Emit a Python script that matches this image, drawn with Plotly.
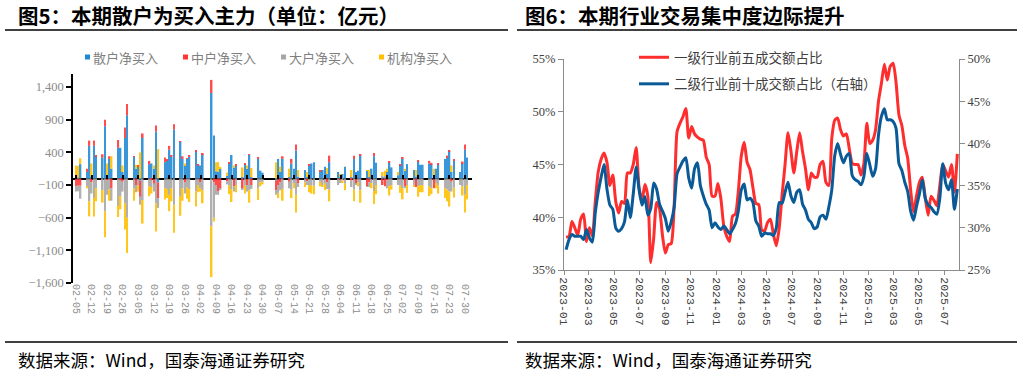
import pandas as pd
import plotly.graph_objects as go

W, H = 1024, 373

# ---------------- 图5 data (亿元, daily) ----------------
holidays5 = ["2025-04-04", "2025-05-01", "2025-05-02", "2025-05-05", "2025-06-02"]
trade_days = [d for d in pd.bdate_range("2025-02-05", "2025-07-31")
              if d.strftime("%Y-%m-%d") not in holidays5]
week_ticks5 = list(pd.date_range("2025-02-05", "2025-07-30", freq="7D"))

retail = [30, 10, 220,
          100, 500, 30, 500, 340,
          320, 800, 20, 300, 150,
          470, 470, 100, 620, 970,
          330, 150, 180, -30, 620,
          220, 230, 150, 720, -60,
          250, 280, 440, 330, 750,
          560, 300, 200, 300, 330,
          420, 200, 200, 370,
          1310, 660, 110, 100, 150,
          40, 230, 360, 160, 200,
          20, 220, 150, 360, 20,
          300, 120, 90,
          -30, 300, 100, 300,
          20, 230, 150, 430, 30,
          130, 20, 200, 230, 250,
          100, 130, 180, 70, 250,
          100, 20, 70, 180,
          20, 300, 100, 120, 350,
          120, 20, 150, 340, 240,
          20, 20, 100, 240, 170,
          50, 200, 300, 120, 220,
          130, 30, 260, 210, 210,
          230, 220, 30, 150, 210,
          300, 320, 420, 100, 270,
          100, 230, 440, 320]
mid = [-120, -110, -110,
       50, 80, -60, 80, 10,
       50, 100, -30, 40, -150,
       120, -20, -50, 160, 170,
       10, -100, 20, -250, 70,
       50, -20, -80, 90, -240,
       70, 20, 60, 20, 80,
       10, 40, -60, 10, 30,
       10, 10, -60, 10,
       200, -60, -100, -200, -150,
       -40, 10, 0, -120, 10,
       -150, 10, -100, 10, -100,
       30, 0, 0,
       -150, -100, -60, 40,
       -50, 70, 0, 90, -70,
       0, -40, 10, 0, 0,
       20, 0, 0, -60, 100,
       0, -30, 0, 0,
       -30, 50, -80, 0, 20,
       -120, -60, 0, 50, 0,
       -100, -120, -30, 20, 0,
       0, 20, 20, -120, 0,
       0, -130, 20, 0, 0,
       40, 20, -150, 0, 20,
       0, 30, 10, -50, 20,
       0, 30, 80, 0]
large = [-80, -85, -200,
         -120, -350, -170, -300, -150,
         -180, -500, -220, -170, -190,
         -420, -250, -150, -380, -600,
         -150, -110, -100, -120, -330,
         -120, -110, -120, -380, -150,
         -150, -160, -250, -150, -400,
         -280, -150, -170, -140, -160,
         -200, -100, -90, -180,
         -730, -540, -150, -50, -20,
         -50, -100, -170, -80, -100,
         -20, -110, -100, -180, -60,
         -150, -60, -50,
         -70, -120, -120, -160,
         -100, -170, -70, -250, -60,
         -60, -60, -100, -110, -110,
         -50, -100, -80, -100, -170,
         -100, -40, -30, -80,
         -100, -170, -20, -60, -180,
         -10, -70, -70, -190, -100,
         20, 20, -120, -120, -100,
         -100, -110, -150, -30, -100,
         -100, 0, -120, -100, -100,
         -120, -150, 0, -70, -110,
         -150, -170, -200, -150, -140,
         -100, -120, -250, -100]
inst = [170, 185, 90,
        -30, -230, 200, -280, -200,
        -190, -400, 210, -170, 190,
        -170, -200, 100, -400, -540,
        -190, 60, -100, 400, -360,
        -150, -100, 50, -430, 450,
        -170, -140, -250, -200, -430,
        -290, -190, 30, -170, -200,
        -230, -110, -50, -200,
        -780, -60, 140, 150, 20,
        50, -140, -190, 40, -110,
        150, -120, 50, -190, 140,
        -180, -60, -40,
        250, -80, 80, -180,
        130, -130, -80, -270, 100,
        -70, 80, -110, -120, -130,
        -70, -30, -100, 90, -180,
        0, 50, -40, -100,
        110, -180, 0, -60, -190,
        10, 110, -80, -200, -140,
        60, 80, 50, -140, -70,
        50, -110, -170, 30, -120,
        -30, 100, -160, -110, -110,
        -150, -90, 120, -80, -120,
        -150, -180, -230, 100, -150,
        0, -140, -270, -220]
series5 = [("散户净买入", retail, "#1E88D4"),
           ("中户净买入", mid, "#FF3535"),
           ("大户净买入", large, "#A6A6A6"),
           ("机构净买入", inst, "#FFC000")]
y5_ticks = [-1600, -1100, -600, -100, 400, 900, 1400]

# ---------------- 图6 data (%, weekly) ----------------
weeks6 = list(pd.date_range("2023-01-06", periods=135, freq="7D"))
top5_l1 = [38.1, 38.2, 39.6, 39.0, 38.3, 39.8, 40.3, 37.7, 39.0, 38.2,
           41.5, 44.3, 45.5, 46.1, 45.2, 43.0, 44.0, 41.5, 40.4, 41.5,
           41.3, 44.2, 44.2, 45.0, 46.6, 42.8, 41.6, 43.1, 42.0, 35.7,
           38.0, 41.4, 40.8, 38.3, 36.6, 37.4, 37.5, 41.0, 48.1, 48.9,
           49.5, 50.3, 47.5, 48.6, 47.9, 47.6, 47.4, 47.3, 45.7, 45.0,
           42.0, 42.0, 43.2, 41.8, 39.2, 38.2, 37.7, 40.1, 40.3, 42.5,
           45.8, 47.1, 45.2, 44.5, 42.8, 41.3, 41.2, 38.8, 38.7, 39.5,
           39.8, 38.4, 37.3, 39.0, 42.2, 45.0, 48.0, 46.3, 44.2, 46.2,
           48.0, 46.2, 44.6, 42.6, 44.2, 43.8, 43.8, 45.0, 45.3, 43.3,
           43.0, 47.5, 49.2, 49.4, 48.3, 47.7, 47.9, 46.5, 45.1, 45.0,
           45.0, 44.0, 45.1, 48.9, 47.0, 47.3, 48.3, 51.0, 52.7, 54.5,
           53.0, 54.3, 54.6, 52.8, 49.7, 48.7, 46.8, 45.6, 42.6, 40.5,
           42.0, 43.3, 43.8, 41.9, 40.2, 42.0, 41.6, 41.1, 43.0, 45.0,
           44.4, 43.8, 45.0, 42.4, 46.0]
top10_l2 = [27.4, 28.6, 29.2, 29.0, 29.0, 29.0, 28.6, 29.8, 28.8, 28.3,
            31.8, 34.2, 36.0, 37.5, 34.6, 32.7, 32.2, 30.0, 29.6, 29.9,
            30.7, 33.3, 31.2, 34.0, 37.2, 34.5, 32.7, 33.7, 31.5, 32.3,
            35.3, 34.6, 32.8, 32.0, 31.1, 29.6, 30.7, 32.4, 36.4, 37.2,
            37.9, 38.3, 35.9, 34.7, 37.0, 37.7, 35.0, 33.8, 32.8, 32.1,
            30.0, 30.6, 30.1, 29.8, 30.2, 29.8, 29.3, 29.8, 30.5, 32.0,
            34.5, 35.2, 33.3, 33.5, 33.0, 30.8, 30.2, 29.0, 29.4, 29.3,
            29.3, 29.1, 30.0, 33.0, 32.9, 34.2, 35.4, 33.8, 33.0, 34.2,
            34.5, 32.8, 32.1, 31.0, 30.6, 29.9, 30.1, 31.3, 31.5, 31.0,
            32.5, 34.5, 38.5, 40.0, 38.7, 37.7, 38.5, 38.8, 36.2, 35.7,
            35.5, 35.1, 36.1, 38.8, 37.5, 36.1, 37.0, 41.0, 43.2, 44.1,
            42.8, 42.8, 42.6, 41.8, 37.6, 36.8, 35.4, 34.3, 32.0, 30.9,
            32.5, 34.0, 35.7, 33.5, 32.7, 32.4, 31.9, 31.6, 33.5, 37.6,
            35.3, 34.5, 35.7, 32.2, 34.6]

# ---------------- helpers ----------------
def px_x(p):
    return p / W

def px_y(p):
    return (H - p) / H

CJK = "Noto Sans CJK SC"
SERIF = "Liberation Serif"
MONO = "Liberation Mono"

fig = go.Figure()

for name, vals, color in series5:
    fig.add_trace(go.Bar(x=trade_days, y=vals, name=name, marker_color=color,
                         marker_line_width=0, width=0.75 * 86400000, opacity=0.88,
                         xaxis="x", yaxis="y", showlegend=False))
# carrier trace for the zero-line tick axis
fig.add_trace(go.Scatter(x=[trade_days[0]], y=[0], mode="markers",
                         marker=dict(opacity=0), showlegend=False,
                         hoverinfo="skip", xaxis="x2", yaxis="y"))

fig.add_trace(go.Scatter(x=weeks6, y=top5_l1, name="一级行业前五成交额占比",
                         mode="lines", line=dict(color="#FF2E2E", width=3, shape="spline", smoothing=0.6),
                         xaxis="x3", yaxis="y3", legendgroup="a"))
fig.add_trace(go.Scatter(x=weeks6, y=top10_l2, name="二级行业前十成交额占比（右轴）",
                         mode="lines", line=dict(color="#0B5A98", width=3, shape="spline", smoothing=0.6),
                         xaxis="x3", yaxis="y4", legendgroup="b"))

x5_range = ["2025-02-03 15:00", "2025-08-02 04:00"]
dom5 = [px_x(73), px_x(472)]
ydom5 = [px_y(283), px_y(74)]
zero_pos = px_y(74 + 209 * 1600 / 3200)

fig.update_layout(
    width=W, height=H, margin=dict(l=0, r=0, t=0, b=0, autoexpand=False),
    paper_bgcolor="white", plot_bgcolor="white",
    barmode="relative", showlegend=True,
    xaxis=dict(type="date", domain=dom5, range=x5_range, anchor="y", automargin=False,
               tickvals=week_ticks5, tickformat="%m-%d", tickangle=90,
               showline=False, ticks="", showgrid=False, zeroline=False,
               tickfont=dict(family=MONO, size=10, color="#8C8C8C")),
    xaxis2=dict(type="date", overlaying="x", anchor="free", position=zero_pos,
                range=x5_range, tickvals=week_ticks5, ticks="inside", ticklen=4,
                tickwidth=2, tickcolor="black", showticklabels=False, automargin=False,
                showline=False, showgrid=False, zeroline=False),
    yaxis=dict(domain=ydom5, range=[-1600, 1600], anchor="x", automargin=False,
               tickvals=y5_ticks, tickformat=",", showgrid=False,
               showline=True, linecolor="black", linewidth=1.5,
               ticks="outside", ticklen=5, tickcolor="black", tickwidth=1.5,
               zeroline=True, zerolinecolor="black", zerolinewidth=2,
               tickfont=dict(family=SERIF, size=12.5, color="#8C8C8C")),
    xaxis3=dict(type="date", domain=[px_x(564), px_x(959)], anchor="y3", automargin=False,
                range=["2023-01-01", "2025-08-05"], dtick="M2", tick0="2023-01-01",
                tickformat="%Y-%m", tickangle=90, showgrid=False, zeroline=False,
                showline=True, linecolor="#8C8C8C", linewidth=1,
                ticks="outside", ticklen=4, tickcolor="#8C8C8C",
                tickfont=dict(family=MONO, size=11.5, color="#404040")),
    yaxis3=dict(domain=[px_y(270), px_y(59)], anchor="x3", range=[35, 55], dtick=5,
                ticksuffix="%", showgrid=False, zeroline=False, automargin=False,
                showline=True, linecolor="#8C8C8C", linewidth=1,
                ticks="outside", ticklen=5, tickcolor="#8C8C8C",
                tickfont=dict(family=SERIF, size=12.5, color="#404040")),
    yaxis4=dict(overlaying="y3", side="right", anchor="x3", range=[25, 50], dtick=5,
                ticksuffix="%", showgrid=False, zeroline=False, automargin=False,
                showline=True, linecolor="#8C8C8C", linewidth=1,
                ticks="outside", ticklen=5, tickcolor="#8C8C8C",
                tickfont=dict(family=SERIF, size=12.5, color="#404040")),
    legend=dict(orientation="v", x=px_x(634), y=px_y(42), xanchor="left", yanchor="top",
                traceorder="grouped", tracegroupgap=6, bgcolor="rgba(0,0,0,0)",
                font=dict(family=CJK, size=13.5, color="#404040")),
)

# legend of 图5 (small square keys + labels)
legend5_x = [85, 183, 281, 379]
for (name, _, color), lx in zip(series5, legend5_x):
    fig.add_shape(type="rect", xref="paper", yref="paper",
                  x0=px_x(lx), x1=px_x(lx + 5), y0=px_y(59.5), y1=px_y(54.5),
                  fillcolor=color, line=dict(width=0))
    fig.add_annotation(text=name, xref="paper", yref="paper", x=px_x(lx + 6), y=px_y(57),
                       xanchor="left", yanchor="middle", showarrow=False,
                       font=dict(family=CJK, size=13, color="#7F7F7F"))

annos = [
    dict(text="<b>图5：本期散户为买入主力（单位：亿元）</b>", x=px_x(16), y=px_y(15)),
    dict(text="<b>图6：本期行业交易集中度边际提升</b>", x=px_x(523), y=px_y(15)),
]
for a in annos:
    fig.add_annotation(xref="paper", yref="paper", xanchor="left", yanchor="middle",
                       showarrow=False, font=dict(family=CJK, size=20.5, color="black"), **a)
for xx in (16, 523):
    fig.add_annotation(text="数据来源：Wind，国泰海通证券研究", xref="paper", yref="paper",
                       x=px_x(xx), y=px_y(359), xanchor="left", yanchor="middle",
                       showarrow=False, font=dict(family=CJK, size=17.5, color="black"))

for x0, x1 in ((5, 508), (517, 1017)):
    for yy in (30, 342):
        fig.add_shape(type="line", xref="paper", yref="paper",
                      x0=px_x(x0), x1=px_x(x1), y0=px_y(yy), y1=px_y(yy),
                      line=dict(color="black", width=1.5))

fig.write_html("out.html", config={"displayModeBar": False},
               post_script="document.body.style.margin='0px';document.body.style.overflow='hidden';")
